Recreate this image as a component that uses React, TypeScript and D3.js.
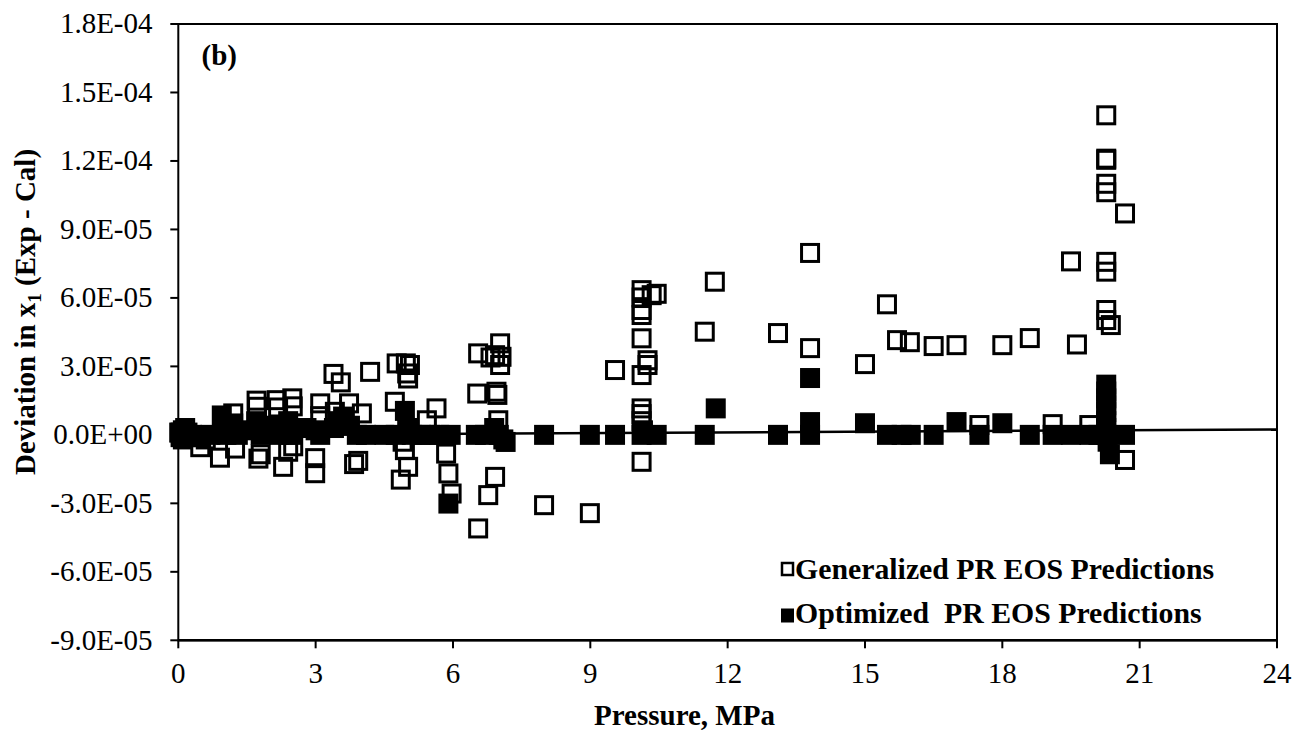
import React from "react";
import * as d3 from "d3";

// Pressure (MPa) and deviation (units of 1E-05) – Generalized PR EOS
const genP = [
  0.05, 0.1, 0.15, 0.3, 0.48, 0.6, 0.91, 1.0, 1.2, 1.24,
  1.71, 1.72, 1.75, 1.8, 2.15, 2.18, 2.49, 2.5, 2.29, 2.4, 2.51,
  2.99, 2.99, 3.1, 3.1, 3.39, 3.55, 3.42, 3.73, 4.01, 3.84, 3.93, 4.19,
  4.73, 4.77, 4.97, 5.06, 5.0, 5.02, 4.86, 5.02, 4.95, 4.9,
  5.43, 5.64, 5.85, 5.9, 5.97,
  6.55, 6.82, 6.92, 7.03, 7.06, 7.03, 6.53, 6.95, 6.97, 6.99, 7.15, 6.92, 6.77, 6.55,
  7.99, 8.99, 9.54,
  10.12, 10.12, 10.12, 10.12, 10.12, 10.12, 10.12, 10.12, 10.12, 10.12, 10.25, 10.25, 10.34, 10.45,
  11.5, 11.72,
  13.1, 13.8, 13.8, 15.0, 15.48, 15.7, 15.98, 16.5, 17.0, 17.5, 18.0, 18.6, 19.1, 19.5, 19.63, 19.9,
  20.27, 20.27, 20.27, 20.27, 20.27, 20.27, 20.27, 20.27, 20.27, 20.37, 20.68, 20.68,
];
const genV = [
  0.1, -0.2, 0.3, 0.0, -0.54, -0.2, -1.0, 0.3, 0.94, -0.6,
  1.5, 1.23, -1.04, -0.85, 1.52, 1.2, 1.6, 1.25, -1.4, -0.74, -0.5,
  -1.02, -1.68, 1.38, 0.82, 2.67, 2.3, 1.01, 1.38, 0.94, -1.28, -1.14, 2.76,
  1.45, 3.13, 3.13, 3.06, 2.69, 2.47, -1.96, -1.4, -0.67, -0.3,
  0.64, 1.16, -0.82, -1.69, -2.57,
  3.57, 3.39, 3.49, 4.01, 3.42, 3.06, 1.81, 1.89, 1.75, 0.64, -0.31, -1.84, -2.64, -4.1,
  -3.08, -3.43, 2.84,
  6.34, 6.02, 5.47, 5.25, 4.23, 2.62, 1.16, 0.91, 0.6, -1.18, 3.27, 3.06, 6.12, 6.18,
  4.52, 6.71,
  4.46, 7.97, 3.8, 3.1, 5.72, 4.15, 4.06, 3.89, 3.93, 0.43, 3.93, 4.24, 0.47, 7.6, 3.96, 0.43,
  14.0, 12.1, 12.05, 11.0, 10.63, 7.58, 7.15, 5.47, 5.03, 4.81, 9.7, -1.1,
];

// Optimized PR EOS
const optP = [
  0.02, 0.05, 0.1, 0.15, 0.2, 0.3, 0.5, 0.7, 0.95, 1.0, 1.05, 1.2, 1.3, 1.5, 1.7, 1.8,
  2.0, 2.2, 2.4, 2.5, 2.8, 3.0, 3.1, 3.4, 3.5, 3.6, 3.75, 3.9, 4.1, 4.5, 4.75, 4.95,
  5.0, 5.1, 5.3, 5.5, 5.7, 5.9, 5.95, 6.5, 6.7, 6.9, 7.0, 7.1,
  7.99, 8.99, 9.54, 10.12, 10.15, 10.45, 11.5, 11.74, 13.1, 13.8, 13.8, 13.8,
  15.0, 15.48, 15.8, 16.0, 16.5, 17.0, 17.5, 18.0, 18.6, 19.1, 19.5, 19.9, 20.1,
  20.27, 20.27, 20.27, 20.27, 20.27, 20.27, 20.27, 20.27, 20.3, 20.35, 20.68,
];
const optV = [
  0.1, -0.1, 0.2, 0.0, 0.1, -0.1, -0.1, 0.0, 0.85, 0.3, 0.0, 0.5, 0.0, 0.2, 0.6, 0.0,
  0.4, 0.0, 0.6, 0.0, 0.3, 0.2, 0.0, 0.3, 0.6, 0.8, 0.4, 0.0, 0.0, 0.0, 0.0, 1.05,
  0.3, 0.0, 0.0, 0.0, 0.0, -3.01, 0.0, 0.0, 0.0, 0.3, 0.0, -0.2,
  0.0, 0.0, 0.0, 0.0, 0.2, 0.0, 0.0, 1.16, 0.0, 2.49, 0.56, 0.0,
  0.51, 0.0, 0.0, 0.0, 0.0, 0.56, 0.0, 0.51, 0.0, 0.0, 0.0, 0.0, 0.0,
  2.2, 1.9, 1.6, 1.3, 1.0, 0.6, 0.3, 0.0, -0.3, -0.85, 0.0,
];

// Linear trendline of optimized series (endpoints)
const trendP = [0, 24];
const trendV = [-0.02, 0.24];

const xTicks = [0, 3, 6, 9, 12, 15, 18, 21, 24];
const yTicks = [-9, -6, -3, 0, 3, 6, 9, 12, 15, 18];
const yTickLabels = [
  "-9.0E-05", "-6.0E-05", "-3.0E-05", "0.0E+00", "3.0E-05",
  "6.0E-05", "9.0E-05", "1.2E-04", "1.5E-04", "1.8E-04",
];
const seriesNames = ["Generalized PR EOS Predictions", "Optimized  PR EOS Predictions"];

const W = 1297;
const H = 731;
const L = 178.3, R = 1277, T = 24, B = 640.3;
const FONT = "'Liberation Serif', 'Times New Roman', Times, serif";

export default function App() {
  const x = d3.scaleLinear().domain([0, 24]).range([L, R]);
  const y = d3.scaleLinear().domain([-9, 18]).range([B, T]);
  const line = d3.line<number>().x((_, i) => x(trendP[i])).y((d) => y(d));
  const ms = 17;

  return (
    <svg width={W} height={H} style={{ position: "absolute", left: 0, top: 0, background: "#fff" }}
      fontFamily={FONT}>
      <rect x={0} y={0} width={W} height={H} fill="#fff" />
      {/* plot frame */}
      <rect x={L} y={T} width={R - L} height={B - T} fill="none" stroke="#000" strokeWidth={2} />
      {/* y ticks */}
      {yTicks.map((t, i) => (
        <g key={"yt" + t}>
          <line x1={L - 8} x2={L} y1={y(t)} y2={y(t)} stroke="#000" strokeWidth={2} />
          <text x={152.5} y={y(t)} dy="0.32em" textAnchor="end" fontSize={29}>{yTickLabels[i]}</text>
        </g>
      ))}
      {/* x ticks */}
      {xTicks.map((t) => (
        <g key={"xt" + t}>
          <line x1={x(t)} x2={x(t)} y1={B} y2={B + 8} stroke="#000" strokeWidth={2} />
          <text x={x(t)} y={683} textAnchor="middle" fontSize={29}>{t}</text>
        </g>
      ))}
      {/* generalized: open squares */}
      {genP.map((p, i) => (
        <rect key={"g" + i} x={x(p) - ms / 2} y={y(genV[i]) - ms / 2} width={ms} height={ms}
          fill="none" stroke="#000" strokeWidth={3} />
      ))}
      {/* trendline */}
      <path d={line(trendV) || ""} fill="none" stroke="#000" strokeWidth={2.5} />
      {/* optimized: filled squares */}
      {optP.map((p, i) => (
        <rect key={"o" + i} x={x(p) - ms / 2} y={y(optV[i]) - ms / 2} width={ms} height={ms}
          fill="#000" stroke="#000" strokeWidth={3} />
      ))}
      {/* axis line on top */}
      <line x1={L} x2={R} y1={B} y2={B} stroke="#000" strokeWidth={2.5} />
      {/* panel label */}
      <text x={201.5} y={65} fontSize={29} fontWeight="bold">(b)</text>
      {/* legend */}
      <rect x={782} y={563} width={11} height={12} fill="none" stroke="#000" strokeWidth={2.5} />
      <text x={795} y={579} fontSize={29.8} fontWeight="bold">{seriesNames[0]}</text>
      <rect x={781} y={608.5} width={13} height={14} fill="#000" />
      <text x={795} y={623} fontSize={29.8} fontWeight="bold" style={{ whiteSpace: "pre" }}>{seriesNames[1]}</text>
      {/* axis titles */}
      <text x={684.5} y={725} textAnchor="middle" fontSize={29} fontWeight="bold">Pressure, MPa</text>
      <text transform="translate(35,312) rotate(-90)" textAnchor="middle" fontSize={29} fontWeight="bold">
        Deviation in x<tspan fontSize={19} dy={6}>1</tspan><tspan dy={-6}> (Exp - Cal)</tspan>
      </text>
    </svg>
  );
}
